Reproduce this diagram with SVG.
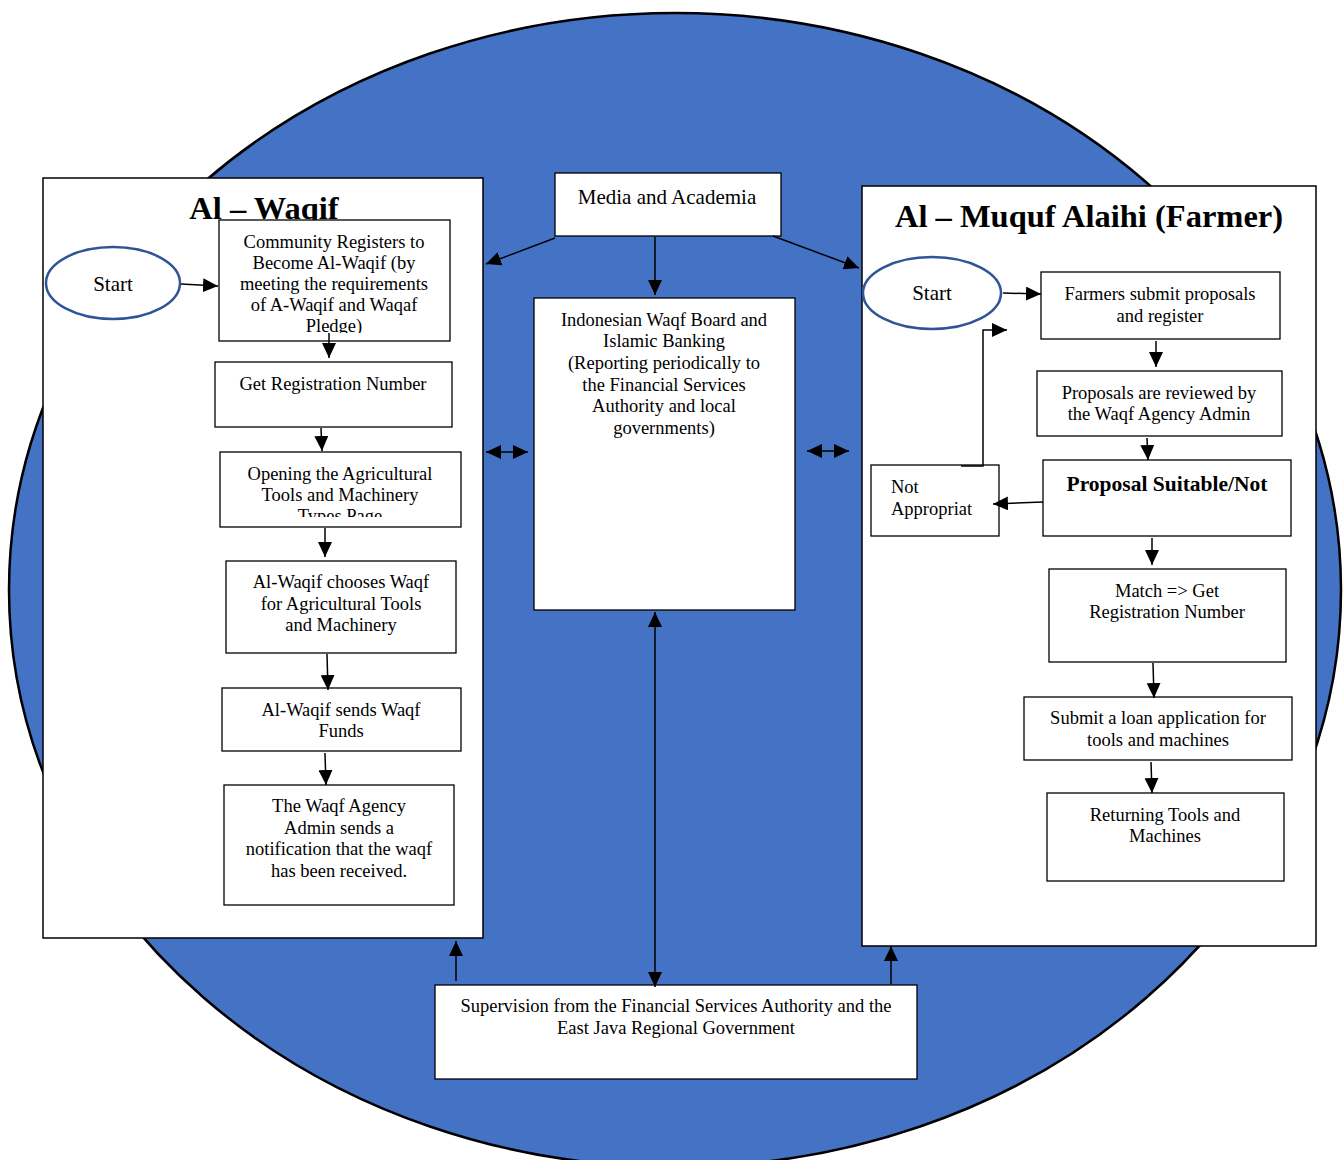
<svg xmlns="http://www.w3.org/2000/svg" width="1343" height="1160" viewBox="0 0 1343 1160">
<defs>
<marker id="ah" markerUnits="userSpaceOnUse" markerWidth="16" markerHeight="14" refX="15" refY="7" orient="auto-start-reverse">
<path d="M0,0 L15,7 L0,14 Z" fill="#000"/>
</marker>
<clipPath id="c1"><rect x="219" y="222" width="231" height="111"/></clipPath>
<clipPath id="c2"><rect x="220" y="454" width="241" height="63"/></clipPath>
</defs>
<style>
.box{fill:#fff;stroke:#000;stroke-width:1.3}
.panel{fill:#fff;stroke:#000;stroke-width:1.5}
.t{font-family:"Liberation Serif","Times New Roman",serif;font-size:18.5px;fill:#000;text-anchor:middle}
.title{font-family:"Liberation Serif","Times New Roman",serif;font-size:32.5px;font-weight:bold;fill:#000;text-anchor:middle}
.start{fill:#fff;stroke:#2F5597;stroke-width:2.5}
.st{font-family:"Liberation Serif","Times New Roman",serif;font-size:21px;fill:#000;text-anchor:middle}
.conn line,.conn polyline{stroke:#000;stroke-width:1.5;fill:none}
.a{marker-end:url(#ah)}
.aa{marker-end:url(#ah);marker-start:url(#ah)}
</style>
<ellipse id="bg" cx="675" cy="590" rx="666" ry="577" fill="#4472C4" stroke="#000" stroke-width="2.5"/>

<g id="panel-waqif">
<rect class="panel" x="43" y="178" width="440" height="760"/>
<text class="title" x="264" y="219">Al – Waqif</text>
</g>
<g id="panel-farmer">
<rect class="panel" x="862" y="186" width="454" height="760"/>
<text class="title" x="1089" y="227">Al – Muquf Alaihi (Farmer)</text>
</g>

<g id="start-left">
<ellipse class="start" cx="113" cy="283" rx="67" ry="36"/>
<text class="st" x="113" y="291">Start</text>
</g>
<g id="community">
<rect class="box" x="219" y="220" width="231" height="121"/>
<g clip-path="url(#c1)">
<text class="t" x="334" y="248">Community Registers to</text>
<text class="t" x="334" y="269">Become Al-Waqif (by</text>
<text class="t" x="334" y="290">meeting the requirements</text>
<text class="t" x="334" y="311">of A-Waqif and Waqaf</text>
<text class="t" x="334" y="332">Pledge)</text>
</g>
</g>
<g id="get-reg">
<rect class="box" x="215" y="362" width="237" height="65"/>
<text class="t" x="333" y="390">Get Registration Number</text>
</g>
<g id="opening">
<rect class="box" x="220" y="452" width="241" height="75"/>
<g clip-path="url(#c2)">
<text class="t" x="340" y="480">Opening the Agricultural</text>
<text class="t" x="340" y="501">Tools and Machinery</text>
<text class="t" x="340" y="522">Types Page</text>
</g>
</g>
<g id="chooses">
<rect class="box" x="226" y="561" width="230" height="92"/>
<text class="t" x="341" y="588">Al-Waqif chooses Waqf</text>
<text class="t" x="341" y="610">for Agricultural Tools</text>
<text class="t" x="341" y="631">and Machinery</text>
</g>
<g id="sends">
<rect class="box" x="222" y="688" width="239" height="63"/>
<text class="t" x="341" y="716">Al-Waqif sends Waqf</text>
<text class="t" x="341" y="737">Funds</text>
</g>
<g id="notification">
<rect class="box" x="224" y="785" width="230" height="120"/>
<text class="t" x="339" y="812">The Waqf Agency</text>
<text class="t" x="339" y="834">Admin sends a</text>
<text class="t" x="339" y="855">notification that the waqf</text>
<text class="t" x="339" y="877">has been received.</text>
</g>

<g id="media">
<rect class="box" x="555" y="173" width="226" height="63"/>
<text class="t" x="667" y="204" style="font-size:21px">Media and Academia</text>
</g>
<g id="board">
<rect class="box" x="534" y="298" width="261" height="312"/>
<text class="t" x="664" y="326">Indonesian Waqf Board and</text>
<text class="t" x="664" y="347">Islamic Banking</text>
<text class="t" x="664" y="369">(Reporting periodically to</text>
<text class="t" x="664" y="391">the Financial Services</text>
<text class="t" x="664" y="412">Authority and local</text>
<text class="t" x="664" y="434">governments)</text>
</g>
<g id="supervision">
<rect class="box" x="435" y="985" width="482" height="94"/>
<text class="t" x="676" y="1012">Supervision from the Financial Services Authority and the</text>
<text class="t" x="676" y="1034">East Java Regional Government</text>
</g>

<g id="start-right">
<ellipse class="start" cx="932" cy="293" rx="69" ry="36"/>
<text class="st" x="932" y="300">Start</text>
</g>
<g id="farmers-submit">
<rect class="box" x="1041" y="272" width="239" height="67"/>
<text class="t" x="1160" y="300">Farmers submit proposals</text>
<text class="t" x="1160" y="322">and register</text>
</g>
<g id="reviewed">
<rect class="box" x="1037" y="371" width="245" height="65"/>
<text class="t" x="1159" y="399">Proposals are reviewed by</text>
<text class="t" x="1159" y="420">the Waqf Agency Admin</text>
</g>
<g id="suitable">
<rect class="box" x="1043" y="460" width="248" height="76"/>
<text class="t" x="1167" y="491" style="font-size:21.5px;font-weight:bold">Proposal Suitable/Not</text>
</g>
<g id="not-appropriate">
<rect class="box" x="871" y="465" width="128" height="71"/>
<text class="t" x="891" y="493" style="text-anchor:start">Not</text>
<text class="t" x="891" y="515" style="text-anchor:start">Appropriat</text>
</g>
<g id="match">
<rect class="box" x="1049" y="569" width="237" height="93"/>
<text class="t" x="1167" y="597">Match =&gt; Get</text>
<text class="t" x="1167" y="618">Registration Number</text>
</g>
<g id="loan">
<rect class="box" x="1024" y="697" width="268" height="63"/>
<text class="t" x="1158" y="724">Submit a loan application for</text>
<text class="t" x="1158" y="746">tools and machines</text>
</g>
<g id="returning">
<rect class="box" x="1047" y="793" width="237" height="88"/>
<text class="t" x="1165" y="821">Returning Tools and</text>
<text class="t" x="1165" y="842">Machines</text>
</g>

<g id="connectors" class="conn">
<line class="a" x1="181" y1="284" x2="218" y2="286"/>
<line class="a" x1="329" y1="333" x2="329" y2="358"/>
<line class="a" x1="321" y1="428" x2="322" y2="451"/>
<line class="a" x1="325" y1="528" x2="325" y2="557"/>
<line class="a" x1="327" y1="654" x2="328" y2="690"/>
<line class="a" x1="325" y1="753" x2="326" y2="785"/>
<line class="a" x1="456" y1="981" x2="456" y2="941"/>
<line class="a" x1="555" y1="238" x2="486" y2="264"/>
<line class="a" x1="655" y1="237" x2="655" y2="295"/>
<line class="a" x1="773" y1="236" x2="859" y2="268"/>
<line class="aa" x1="486" y1="452" x2="528" y2="452"/>
<line class="aa" x1="807" y1="451" x2="849" y2="451"/>
<line class="aa" x1="655" y1="612" x2="655" y2="987"/>
<line class="a" x1="891" y1="984" x2="891" y2="946"/>
<line class="a" x1="1003" y1="293" x2="1041" y2="294"/>
<line class="a" x1="1156" y1="341" x2="1156" y2="367"/>
<line class="a" x1="1147" y1="438" x2="1148" y2="460"/>
<line class="a" x1="1043" y1="502" x2="993" y2="504"/>
<polyline class="a" points="961,466 983,466 983,330 1007,330"/>
<line class="a" x1="1152" y1="538" x2="1152" y2="565"/>
<line class="a" x1="1153" y1="663" x2="1154" y2="698"/>
<line class="a" x1="1151" y1="762" x2="1152" y2="793"/>
</g>
</svg>
